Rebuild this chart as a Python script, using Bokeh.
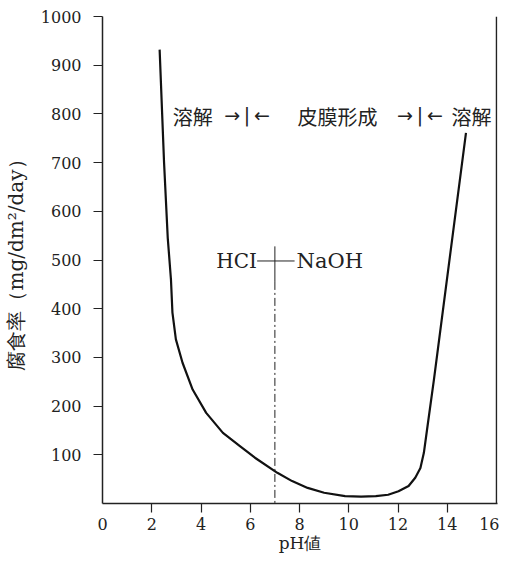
from bokeh.plotting import figure
from bokeh.models import FixedTicker, Range1d
from bokeh.core.properties import value
from bokeh.embed import file_html
from bokeh.resources import INLINE

# Data
ph = [2.32, 2.50, 2.65, 2.78, 2.84, 2.98, 3.25, 3.66, 4.21, 4.89, 5.58, 6.19, 7.10, 7.70,
      8.33, 9.00, 9.85, 10.5, 11.1, 11.6, 12.02, 12.43, 12.70, 12.91, 13.05, 13.18, 13.46, 14.76]
rate = [932, 700, 545, 460, 392, 337, 289, 234, 186, 145, 118, 94, 63, 46,
        32, 22, 15, 14, 15, 18, 25, 36, 53, 73, 104, 152, 255, 761]

x_tick_marks = [2, 4, 6, 8, 10, 12, 14]
x_tick_labels = [0, 2, 4, 6, 8, 10, 12, 14, 16]
y_ticks = [100, 200, 300, 400, 500, 600, 700, 800, 900, 1000]

SERIF = "DejaVu Serif"
CJK = "Noto Sans CJK JP"
INK = "#222222"

p = figure(width=499, height=555, output_backend="svg", toolbar_location=None,
           x_range=Range1d(0, 16.04), y_range=Range1d(0, 1000),
           min_border_left=102, min_border_right=2, min_border_top=16, min_border_bottom=46)
p.outline_line_color = None
p.xgrid.visible = False
p.ygrid.visible = False
p.background_fill_color = "white"
p.border_fill_color = "white"

# y axis
ya = p.yaxis[0]
ya.ticker = FixedTicker(ticks=y_ticks)
ya.axis_line_color = INK
ya.axis_line_width = 1.5
ya.major_tick_line_color = INK
ya.major_tick_line_width = 1.2
ya.major_tick_in = 0
ya.major_tick_out = 9
ya.minor_tick_line_color = None
ya.major_label_standoff = 12
ya.major_label_text_font = SERIF
ya.major_label_text_font_size = "16px"
ya.major_label_text_color = INK
ya.axis_label = "腐食率（mg/dm²/day）"
ya.axis_label_text_font = SERIF
ya.axis_label_text_font_size = "20px"
ya.axis_label_text_font_style = "normal"
ya.axis_label_text_color = INK
ya.axis_label_standoff = 10

# x axis: labels at 0..16, visible tick marks (as minor ticks) at 2..14
xa = p.xaxis[0]
xa.ticker = FixedTicker(ticks=x_tick_labels, minor_ticks=x_tick_marks)
xa.axis_line_color = INK
xa.axis_line_width = 1.5
xa.major_tick_line_color = None
xa.major_tick_in = 0
xa.major_tick_out = 4
xa.minor_tick_line_color = INK
xa.minor_tick_line_width = 1.2
xa.minor_tick_in = 0
xa.minor_tick_out = 9
xa.major_label_standoff = 5
xa.major_label_text_font = SERIF
xa.major_label_text_font_size = "16px"
xa.major_label_text_color = INK
xa.axis_label = "pH値"
xa.axis_label_text_font = SERIF
xa.axis_label_text_font_size = "17px"
xa.axis_label_text_font_style = "normal"
xa.axis_label_text_color = INK
xa.axis_label_standoff = 0

# right spine
p.line([16, 16], [0, 1000], line_color=INK, line_width=1.5)

# curve
p.line(ph, rate, line_color="#111111", line_width=2.2, line_join="round")

# pH 7 boundary
p.line([7, 7], [528, 455], line_color=INK, line_width=1)
p.line([7, 7], [455, 0], line_color=INK, line_width=1, line_dash="8 3 2 3")
p.line([6.28, 7.80], [498, 498], line_color=INK, line_width=1)
p.text(x=[6.27], y=[498], text=["HCI"], text_font=value(SERIF), text_font_size="20px",
       text_align="right", text_baseline="middle", text_color=INK)
p.text(x=[7.88], y=[498], text=["NaOH"], text_font=value(SERIF), text_font_size="21px",
       text_align="left", text_baseline="middle", text_color=INK)

# region labels
p.text(x=[2.85, 7.92, 14.17], y=[795, 795, 795],
       text=["溶解", "皮膜形成", "溶解"],
       text_font=value(CJK), text_font_size="20px",
       text_align="left", text_baseline="middle", text_color=INK)
p.text(x=[5.87, 12.89], y=[797, 797],
       text=["→\u2009|\u2009←", "→\u2009|\u2009←"],
       text_font=value("DejaVu Sans"), text_font_size="19px",
       text_align="center", text_baseline="middle", text_color=INK)

open("out.html", "w").write(file_html(p, INLINE))
